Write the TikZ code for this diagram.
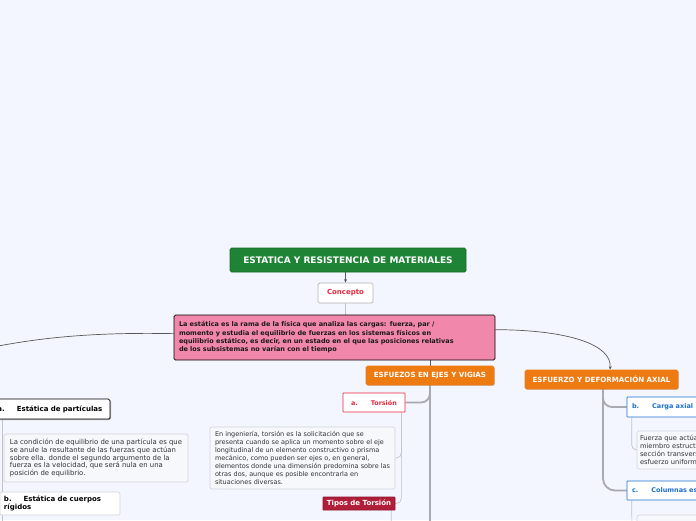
\documentclass[tikz,border=0pt]{standalone}
\usepackage{fontspec}
\setmainfont{DejaVu Sans}
\usetikzlibrary{arrows.meta,calc,shadows}
\definecolor{bgc}{HTML}{F3F6FE}
\definecolor{titlegreen}{HTML}{1E8335}
\definecolor{pinkbox}{HTML}{F287AC}
\definecolor{orangebox}{HTML}{EE7A12}
\definecolor{redtxt}{HTML}{E8283C}
\definecolor{bluebd}{HTML}{1A6FD0}
\definecolor{darkred}{HTML}{B01E3A}
\definecolor{descfill}{HTML}{F7F8FC}
\definecolor{descbd}{HTML}{D2D4DC}
\definecolor{linegray}{HTML}{A9A9B0}
\definecolor{txtgray}{HTML}{333333}
\pgfdeclarelayer{back}
\pgfsetlayers{back,main}
\tikzset{
  basebox/.style={rectangle, rounded corners=1.5pt, inner sep=0pt, line width=0.7pt},
  titlebox/.style={basebox, fill=titlegreen, draw=titlegreen!80!black, text=white,
    font=\bfseries\fontsize{9}{10}\selectfont},
  conceptbox/.style={basebox, fill=white, draw=gray!60, text=redtxt,
    font=\bfseries\fontsize{7}{8}\selectfont},
  pinkstyle/.style={basebox, fill=pinkbox, draw=black, text=black!90, align=left,
    font=\bfseries\fontsize{6.5}{8.3}\selectfont},
  orangestyle/.style={basebox, fill=orangebox, draw=orangebox, text=white,
    font=\bfseries\fontsize{7.1}{8}\selectfont,
    drop shadow={shadow xshift=0.8pt, shadow yshift=-0.8pt, opacity=0.35}},
  redsub/.style={basebox, rounded corners=0.5pt, fill=white, draw=redtxt, text=redtxt,
    font=\bfseries\fontsize{6.4}{7}\selectfont},
  bluesub/.style={basebox, rounded corners=0.5pt, fill=white, draw=bluebd, text=bluebd, align=left,
    font=\bfseries\fontsize{6.5}{7}\selectfont},
  blacksub/.style={basebox, fill=white, draw=black, text=black, align=left,
    font=\bfseries\fontsize{7}{8.5}\selectfont,
    drop shadow={shadow xshift=1pt, shadow yshift=-1pt, opacity=0.6}},
  graysub/.style={basebox, fill=white, draw=descbd, text=black, align=left,
    font=\bfseries\fontsize{7}{8.5}\selectfont},
  descbox/.style={basebox, fill=descfill, draw=descbd, text=txtgray, align=left,
    font=\fontsize{6.5}{8}\selectfont},
  tiposbox/.style={basebox, rounded corners=0.5pt, fill=darkred, draw=darkred!80!black, text=white,
    font=\bfseries\fontsize{7}{8}\selectfont},
  trunk/.style={draw=linegray, line width=1.8pt},
  twig/.style={draw=descbd!80!gray, line width=0.7pt},
  link/.style={draw=gray!70!black, line width=0.7pt},
}
\begin{document}
\begin{tikzpicture}[x=1pt,y=-1pt]
\useasboundingbox (0,0) rectangle (696,520);
\clip (0,0) rectangle (696,520);

\node[titlebox, minimum width=236pt, minimum height=24pt] (title) at (348,260) {ESTATICA Y RESISTENCIA DE MATERIALES};
\node[conceptbox, minimum width=55pt, minimum height=20pt] (concepto) at (345.5,293) {Concepto};
\node[pinkstyle, minimum width=321pt, minimum height=45pt, text width=311pt] (pink) at (334.5,337.5)
 {La estática es la rama de la física que analiza las cargas: fuerza, par /\\
  momento y estudia el equilibrio de fuerzas en los sistemas físicos en\\
  equilibrio estático, es decir, en un estado en el que las posiciones relativas\\
  de los subsistemas no varían con el tiempo};
\node[orangestyle, minimum width=128pt, minimum height=19pt] (esf) at (430,375.5) {ESFUEZOS EN EJES Y VIGIAS};
\node[orangestyle, minimum width=153pt, minimum height=19pt] (axial) at (601.5,379.5) {ESFUERZO Y DEFORMACIÓN AXIAL};
\node[redsub, minimum width=62pt, minimum height=19pt] (tors) at (374,402.5) {a.\hspace{13pt}Torsión};
\node[descbox, minimum width=185pt, minimum height=62pt] (descT) at (302.5,458)
 {En ingeniería, torsión es la solicitación que se\\
  presenta cuando se aplica un momento sobre el eje\\
  longitudinal de un elemento constructivo o prisma\\
  mecánico, como pueden ser ejes o, en general,\\
  elementos donde una dimensión predomina sobre las\\
  otras dos, aunque es posible encontrarla en\\
  situaciones diversas.};
\node[tiposbox, minimum width=72pt, minimum height=13pt] (tipos) at (359,503.5) {Tipos de Torsión};

\node[blacksub, minimum width=115pt, minimum height=20pt, text width=110pt] (partA) at (52.5,409) {a.\hspace{12pt}Estática de partículas};
\node[descbox, minimum width=184pt, minimum height=48pt, font=\fontsize{6.9}{7.8}\selectfont] (descL) at (96,458)
 {La condición de equilibrio de una partícula es que\\
  se anule la resultante de las fuerzas que actúan\\
  sobre ella. donde el segundo argumento de la\\
  fuerza es la velocidad, que será nula en una\\
  posición de equilibrio.};
\node[graysub, minimum width=120pt, minimum height=23pt, text width=112pt] (partB) at (60,503.5) {b.\hspace{12pt}Estática de cuerpos\\rígidos};

\node[bluesub, minimum width=100pt, minimum height=20pt, text width=90pt] (carga) at (677,407) {b.\hspace{13pt}Carga axial};
\node[descbox, minimum width=100pt, minimum height=38pt, text width=94pt, font=\fontsize{6.7}{8}\selectfont] (descC) at (687,450)
 {\makebox[0pt][l]{Fuerza que actúa a lo largo del eje de un}\\
  \makebox[0pt][l]{miembro estructural aplicada al centroide de la}\\
  \makebox[0pt][l]{sección transversal del mismo, produciendo un}\\
  \makebox[0pt][l]{esfuerzo uniforme.}};
\node[bluesub, minimum width=100pt, minimum height=19pt, text width=90pt] (colum) at (677,490.5) {c.\hspace{13pt}\makebox[0pt][l]{Columnas esbeltas}};
\node[descbox, minimum width=100pt, minimum height=20pt] (descD) at (687,525) {};

\coordinate (offL) at (-30,352);
\coordinate (leftTop) at (2,419);
\coordinate (leftEnd) at (2,530);
\coordinate (trunkEnd) at (430,530);
\coordinate (tiposEnd) at (391,530);
\coordinate (columEnd) at (632,530);

\begin{pgfonlayer}{back}
\fill[bgc] (0,0) rectangle (696,520);
\draw[link,-{Stealth[length=3.5pt,width=3pt]}] (concepto.north |- title.south) -- (concepto.north);
\draw[twig] (concepto.south) -- (concepto.south |- pink.north);
\draw[link] ($(pink.north west)+(0,19)$) .. controls (90,332) and (30,338) .. (offL);
\draw[link,-{Stealth[length=3.5pt,width=3pt]}] ($(pink.north east)+(0,15)$) .. controls (570,330) and (612,345) .. ($(axial.north)+(8.5,0)$);
\draw[link] (esf.north |- pink.south) -- (esf.north);
\draw[trunk] (esf.south) -- (trunkEnd);
\draw[trunk, rounded corners=9pt] (esf.south) |- (tors.east);
\draw[twig, rounded corners=5pt] ($(tors.south east)+(-4,0)$) |- (descT.east);
\draw[twig, rounded corners=5pt] ($(tors.south east)+(-4,0)$) |- (tipos.east);
\draw[twig] ($(tipos.south east)+(-4,0)$) -- (tiposEnd);
\draw[trunk, rounded corners=12pt] ($(axial.south)+(1.5,0)$) |- (colum.west);
\draw[trunk, rounded corners=9pt] ($(axial.south)+(1.5,0)$) |- (carga.west);
\draw[twig, rounded corners=5pt] ($(carga.south west)+(5,0)$) |- (descC.west);
\draw[twig] ($(colum.south west)+(5,0)$) -- (columEnd);
\draw[twig] (leftTop) -- (leftEnd);
\end{pgfonlayer}
\end{tikzpicture}
\end{document}
